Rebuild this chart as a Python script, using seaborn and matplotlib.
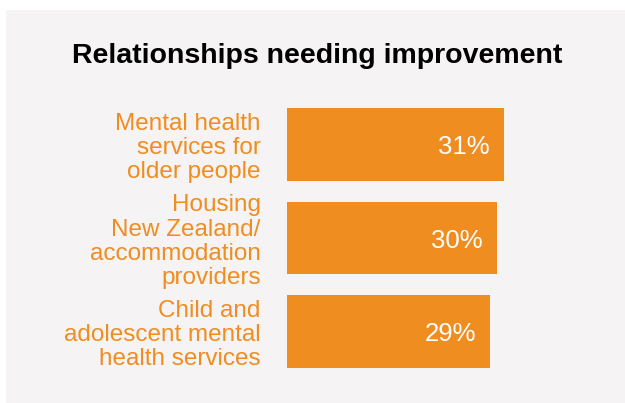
import matplotlib
matplotlib.use("Agg")
import matplotlib.pyplot as plt
from matplotlib.patches import Rectangle
import seaborn as sns
import pandas as pd

categories = [
    "Mental health\nservices for\nolder people",
    "Housing\nNew Zealand/\naccommodation\nproviders",
    "Child and\nadolescent mental\nhealth services",
]
values = [31, 30, 29]
value_labels = ["31%", "30%", "29%"]
title = "Relationships needing improvement"

ORANGE = "#EF8D20"
PANEL = "#F5F3F4"

sns.set_theme(style="white")
plt.rcParams["font.family"] = ["Liberation Sans", "DejaVu Sans"]

df = pd.DataFrame({"category": categories, "value": values})

fig = plt.figure(figsize=(6.25, 4.03), dpi=100, facecolor="white")
W, H = 625, 403

# grey card behind the chart
fig.patches.append(Rectangle((6 / W, 0), 1 - 6 / W, (H - 10) / H,
                             transform=fig.transFigure, facecolor=PANEL,
                             edgecolor="none", zorder=-5))

ax = fig.add_axes([287 / W, (H - 378.25) / H, 323 / W, 280.5 / H])
ax.set_facecolor("none")

sns.barplot(data=df, x="value", y="category", color=ORANGE, width=0.78,
            saturation=1, linewidth=0, ax=ax)

ax.set_xlim(0, 323 / 7)
ax.set_ylim(2.5, -0.5)
ax.set_xlabel("")
ax.set_ylabel("")
ax.set_xticks([])
sns.despine(ax=ax, left=True, bottom=True)
ax.tick_params(axis="y", length=0, pad=19)
for t in ax.get_yticklabels():
    t.set_color(ORANGE)
    t.set_fontsize(17.5)
    t.set_linespacing(1.12)
    t.set_ha("right")

for i, (v, lab) in enumerate(zip(values, value_labels)):
    ax.annotate(lab, xy=(v, i), xytext=(-14, 0), textcoords="offset pixels",
                ha="right", va="center_baseline", color="white",
                fontsize=18.5)

fig.text(317.5 / W, (H - 63) / H, title, ha="center", va="baseline",
         fontsize=20.5, fontweight="bold", color="black")

fig.savefig("out.png", dpi=100, facecolor="white")
